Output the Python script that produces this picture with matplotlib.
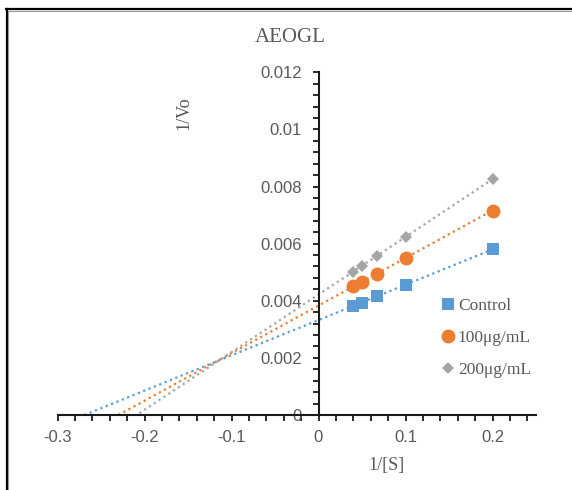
import matplotlib
matplotlib.use('Agg')
import matplotlib.pyplot as plt
from matplotlib.lines import Line2D
import numpy as np

# 1/[S] 값
inv_s = [0.04, 0.05, 0.0667, 0.1, 0.2]

# 1/Vo 값
control = [0.00383, 0.00393, 0.00416, 0.00455, 0.0058]
dose100 = [0.0045, 0.00465, 0.00495, 0.0055, 0.00716]
dose200 = [0.00502, 0.00522, 0.00557, 0.00625, 0.00825]

labels = ['Control', '100μg/mL', '200μg/mL']
colors = ['#5B9BD5', '#ED7D31', '#A5A5A5']
markers = ['s', 'o', 'D']
msizes = [9, 10, 6.5]

W, H = 572, 490
fig = plt.figure(figsize=(W / 100, H / 100), dpi=100)
ax = fig.add_axes([57.5 / W, 1 - 415 / H, (536 - 57.5) / W, (415 - 72.3) / H])

grey = '#595959'
serif = ['Liberation Serif', 'DejaVu Serif']
sans = ['Liberation Sans', 'DejaVu Sans']

handles = []
for ys, c, m, ms, lab in zip([control, dose100, dose200], colors, markers, msizes, labels):
    # 추세선 (선형, 뒤쪽으로 연장)
    k, b = np.polyfit(inv_s, ys, 1)
    xs = np.array([-0.3, 0.2])
    ax.plot(xs, k * xs + b, color=c, lw=1.6, linestyle=(0, (1, 1.6)), zorder=2)
    h, = ax.plot(inv_s, ys, linestyle='none', marker=m, ms=ms, color=c,
                 markeredgewidth=0, zorder=3, label=lab)
    handles.append(h)

ax.set_xlim(-0.3, 0.25)
ax.set_ylim(0, 0.012)

ax.spines['left'].set_position(('data', 0))
ax.spines['bottom'].set_position(('data', 0))
ax.spines['top'].set_visible(False)
ax.spines['right'].set_visible(False)
for s in ['left', 'bottom']:
    ax.spines[s].set_linewidth(1.5)
    ax.spines[s].set_color('#1a1a1a')

ax.set_xticks([-0.3, -0.2, -0.1, 0, 0.1, 0.2])
ax.set_xticklabels(['-0.3', '-0.2', '-0.1', '0', '0.1', '0.2'])
ax.set_xticks(np.arange(-0.3, 0.2501, 0.02), minor=True)
ax.set_yticks([0, 0.002, 0.004, 0.006, 0.008, 0.01, 0.012])
ax.set_yticklabels(['0', '0.002', '0.004', '0.006', '0.008', '0.01', '0.012'])
ax.set_yticks(np.arange(0, 0.01201, 0.0004), minor=True)

ax.tick_params(which='both', direction='out', length=4, width=1.3, color='#1a1a1a')
ax.tick_params(axis='x', which='major', pad=7)
ax.tick_params(axis='y', which='major', pad=8)
for t in ax.get_xticklabels() + ax.get_yticklabels():
    t.set_family(sans)
    t.set_fontsize(12)
    t.set_color(grey)

fig.text(290 / W, 1 - 38 / H, 'AEOGL', ha='center', va='center',
         family=serif, fontsize=15, color=grey)
fig.text(184 / W, 1 - 113 / H, '1/Vo', ha='center', va='center', rotation=90,
         family=serif, fontsize=13, color=grey)
fig.text(387 / W, 1 - 465 / H, '1/[S]', ha='center', va='center',
         family=serif, fontsize=13, color=grey)

leg = fig.legend(handles=handles, loc='upper left', bbox_to_anchor=(443 / W, 1 - 298 / H),
                 frameon=False, handlelength=0.6, handletextpad=0.25, labelspacing=0.92,
                 borderpad=0, borderaxespad=0, prop={'family': serif, 'size': 12.5})
for t in leg.get_texts():
    t.set_color(grey)

# 이미지 테두리 (위, 왼쪽)
fig.add_artist(Line2D([6 / W, 1], [1 - 9.5 / H, 1 - 9.5 / H], color='black', lw=1.6,
                      transform=fig.transFigure))
fig.add_artist(Line2D([7 / W, 1], [1 - 11.3 / H, 1 - 11.3 / H], color='#999999', lw=0.8,
                      transform=fig.transFigure))
fig.add_artist(Line2D([6.5 / W, 6.5 / W], [0, 1 - 9 / H], color='black', lw=1.6,
                      transform=fig.transFigure))
fig.add_artist(Line2D([8.3 / W, 8.3 / W], [0, 1 - 11 / H], color='#999999', lw=0.8,
                      transform=fig.transFigure))

fig.savefig('out.png', dpi=100)
